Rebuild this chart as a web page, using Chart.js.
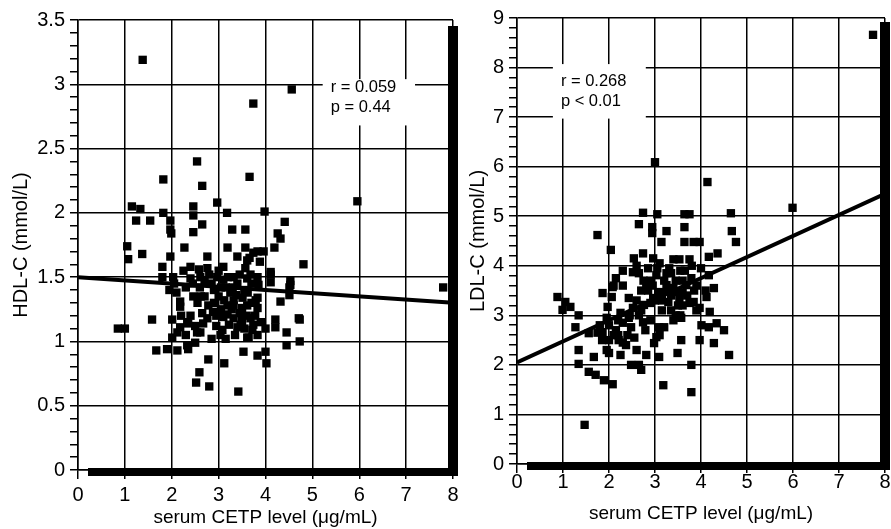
<!DOCTYPE html>
<html>
<head>
<meta charset="utf-8">
<script src="https://cdn.jsdelivr.net/npm/chart.js@4.4.0/dist/chart.umd.min.js"></script>
<style>
  body { margin: 0; background: #fff; overflow: hidden; }
  .wrap { position: absolute; top: 0; }
</style>
</head>
<body>
<div class="wrap" style="left:0px"><canvas id="hdlChart" width="463" height="529"></canvas></div>
<div class="wrap" style="left:445px"><canvas id="ldlChart" width="446" height="529"></canvas></div>
<script>
// serum CETP level (x) vs HDL-C (left panel)
const hdlX = [1.38, 3.74, 4.56, 2.54, 2.65, 3.66, 1.82, 5.96, 2.97, 3.98, 3.18, 1.15, 1.33, 1.24, 1.54, 1.82,
  1.97, 1.97, 2.46, 2.46, 2.65, 2.46, 3.29, 3.57, 4.41, 4.26, 4.32, 4.19, 1.99, 1.05, 1.37, 2.27, 1.97, 2.76,
  3.19, 3.57, 3.96, 3.83, 3.40, 3.66, 4.81, 7.79, 0.85, 1.00, 1.58, 1.67, 1.90, 2.12, 2.35, 2.50, 2.01, 2.01,
  2.18, 2.35, 2.61, 2.78, 2.59, 2.52, 2.80, 3.12, 3.42, 3.53, 3.83, 4.00, 4.02, 3.64, 3.83, 4.00, 4.21, 4.21,
  4.45, 4.45, 4.73, 4.73, 4.32, 4.51, 4.51, 4.11, 4.11, 3.04, 3.47, 3.74, 3.32, 2.78, 2.46, 2.18, 2.18, 2.76,
  3.19, 3.32, 3.61, 3.83, 3.51, 3.83, 3.19, 1.07, 3.74, 3.61, 3.57, 1.80, 2.40, 2.76, 3.10, 4.11, 1.80, 2.03,
  2.40, 2.61, 2.97, 3.10, 3.32, 3.61, 3.83, 4.53, 3.32, 3.79, 4.53, 2.33, 2.67, 3.10, 3.68, 4.71, 2.12, 2.54,
  3.08, 3.40, 3.72, 3.61, 2.33, 2.90, 3.00, 3.05, 3.15, 3.25, 3.40, 3.45, 3.55, 3.70, 2.85, 2.60, 2.95, 3.30,
  3.60, 2.70, 2.30, 2.05, 1.95, 2.88, 3.50, 2.25, 2.45, 2.55, 2.65, 2.70, 2.80, 2.90, 2.95, 3.00, 3.05, 3.12,
  3.20, 3.22, 3.28, 3.35, 3.38, 3.45, 3.50, 3.55, 3.62, 3.68, 3.70, 3.78, 3.85, 3.90, 2.40, 2.50, 2.20, 2.30,
  2.85, 3.15, 2.58, 3.88, 2.10, 2.62];
const hdlY = [3.19, 2.85, 2.96, 2.40, 2.21, 2.28, 2.26, 2.09, 2.08, 2.01, 2.00, 2.05, 2.03, 1.94, 1.94, 2.00,
  1.94, 1.87, 2.05, 1.98, 1.91, 1.85, 1.87, 1.87, 1.93, 1.84, 1.80, 1.73, 1.84, 1.74, 1.68, 1.73, 1.66, 1.66,
  1.73, 1.73, 1.70, 1.70, 1.66, 1.65, 1.60, 1.42, 1.10, 1.10, 1.17, 0.93, 0.94, 0.93, 0.94, 0.99, 1.17, 1.03,
  1.11, 1.14, 1.07, 0.86, 0.76, 0.68, 0.65, 0.83, 0.61, 0.92, 0.89, 0.92, 0.83, 1.03, 1.05, 1.10, 1.17, 1.11,
  1.07, 0.97, 1.17, 1.00, 1.31, 1.42, 1.36, 1.52, 1.46, 1.05, 1.13, 1.13, 1.18, 1.28, 1.35, 1.27, 1.31, 1.18,
  1.28, 1.28, 1.28, 1.26, 1.34, 1.34, 1.21, 1.64, 1.69, 1.63, 1.57, 1.58, 1.58, 1.57, 1.58, 1.54, 1.50, 1.50,
  1.49, 1.50, 1.50, 1.48, 1.50, 1.49, 1.50, 1.47, 1.32, 1.32, 1.44, 1.15, 1.14, 1.19, 1.18, 1.18, 1.07, 1.07,
  1.09, 1.11, 1.09, 1.03, 0.97, 1.40, 1.35, 1.25, 1.42, 1.38, 1.45, 1.22, 1.40, 1.45, 1.45, 1.42, 1.20, 1.42,
  1.20, 1.35, 1.42, 1.45, 1.40, 1.23, 1.16, 1.55, 1.45, 1.30, 1.22, 1.47, 1.52, 1.30, 1.12, 1.55, 1.42, 1.32,
  1.50, 1.13, 1.25, 1.05, 1.36, 1.52, 1.26, 1.10, 1.38, 1.52, 1.30, 1.20, 1.44, 1.15, 1.20, 1.12, 1.20, 1.05,
  1.02, 1.02, 1.56, 1.62, 1.38, 1.35];

// serum CETP level (x) vs LDL-C (right panel)
const ldlX = [7.74, 3.00, 4.14, 5.99, 1.75, 2.74, 3.05, 3.64, 3.75, 4.65, 2.65, 2.94, 2.94, 3.25, 3.14, 3.64,
  3.64, 3.84, 3.97, 4.67, 4.76, 2.04, 2.74, 2.54, 2.96, 3.40, 3.53, 3.75, 4.17, 4.36, 0.88, 1.05, 0.99, 1.16,
  1.34, 1.27, 1.56, 1.34, 1.67, 1.34, 1.56, 1.71, 1.89, 2.08, 1.47, 1.86, 2.06, 1.97, 1.86, 2.00, 2.15, 2.00,
  2.21, 2.37, 2.00, 2.15, 2.08, 2.43, 2.52, 2.43, 2.48, 2.74, 2.76, 2.65, 2.79, 3.03, 2.98, 3.09, 3.20, 2.48,
  2.65, 2.70, 2.81, 3.09, 3.18, 3.49, 3.57, 3.79, 3.79, 3.97, 4.28, 4.61, 4.01, 4.17, 4.34, 4.50, 4.19, 3.97,
  3.57, 3.29, 3.53, 3.84, 4.12, 4.28, 4.17, 3.09, 3.25, 3.46, 3.68, 3.79, 3.03, 2.81, 2.52, 3.31, 2.96, 2.30,
  2.60, 2.85, 3.10, 3.35, 3.55, 3.80, 4.00, 3.60, 3.20, 2.90, 2.30, 2.70, 3.40, 3.90, 4.10, 3.00, 3.15, 3.70,
  3.35, 3.60, 2.25, 2.30, 1.95, 2.10, 3.45, 2.20, 2.65, 2.75, 2.85, 2.95, 3.05, 3.15, 3.25, 3.30, 3.45, 3.50,
  3.60, 3.65, 3.75, 3.85, 3.90, 3.15, 2.90, 2.70, 2.60, 3.35, 3.55, 1.80, 1.85, 1.95, 2.10, 2.20, 2.30, 2.40,
  1.75, 2.25, 2.45, 2.55, 2.90, 3.10, 3.40, 2.60];
const ldlY = [8.66, 6.09, 5.69, 5.17, 4.62, 5.07, 5.04, 5.04, 5.04, 5.06, 4.84, 4.78, 4.66, 4.70, 4.48, 4.78,
  4.48, 4.48, 4.48, 4.70, 4.48, 4.32, 4.25, 4.15, 4.15, 4.13, 4.13, 4.13, 4.18, 4.25, 3.37, 3.27, 3.11, 3.17,
  3.00, 2.76, 2.64, 2.30, 2.16, 2.02, 1.86, 1.80, 1.69, 1.61, 0.79, 3.45, 3.37, 3.17, 2.66, 2.80, 2.70, 2.50,
  2.50, 2.40, 2.24, 3.75, 3.57, 3.35, 3.15, 2.95, 2.76, 2.86, 3.21, 3.00, 2.70, 2.56, 2.44, 2.76, 2.76, 2.00,
  2.00, 1.90, 2.20, 2.16, 1.59, 2.24, 2.50, 2.00, 1.45, 2.50, 2.44, 2.20, 2.80, 2.76, 2.84, 2.70, 3.07, 3.15,
  2.95, 3.27, 3.35, 3.27, 3.37, 3.55, 3.81, 3.47, 3.61, 3.47, 3.61, 3.75, 3.81, 3.61, 3.87, 3.95, 3.35, 3.90,
  4.00, 3.95, 4.05, 3.85, 3.90, 4.00, 3.95, 3.70, 3.70, 3.70, 3.60, 3.50, 3.55, 3.60, 3.50, 3.30, 3.45, 3.40,
  3.10, 3.20, 3.05, 2.85, 2.95, 3.60, 3.00, 2.60, 3.85, 3.70, 3.50, 3.60, 3.95, 3.30, 3.85, 3.55, 3.70, 3.20,
  3.45, 3.90, 3.25, 3.50, 3.10, 3.10, 3.25, 3.10, 3.30, 3.40, 3.00, 2.80, 2.50, 2.30, 2.60, 2.90, 2.45, 2.60,
  2.65, 2.20, 3.00, 2.55, 2.90, 2.60, 2.90, 2.30];

// regression lines
const fitX = [0, 8];
const hdlFitY = [1.50, 1.30];
const ldlFitY = [2.05, 5.45];

const xTicks = [0, 1, 2, 3, 4, 5, 6, 7, 8];
const xTitle = 'serum CETP level (\u03bcg/mL)';
const hdlStats = ['r = 0.059', 'p = 0.44'];
const ldlStats = ['r = 0.268', 'p < 0.01'];

function pairs(xs, ys) {
  let out = [];
  for (let i = 0; i < xs.length; i++) {
    out.push({ x: xs[i], y: ys[i] });
  }
  return out;
}

const tickFont = { family: 'Liberation Sans, Arial, sans-serif', size: 20 };
const xTitleFont = { family: 'Liberation Sans, Arial, sans-serif', size: 19 };
const yTitleFont = { family: 'Liberation Sans, Arial, sans-serif', size: 20 };

// thick black "shadow" bars along the right and bottom edges, and the r/p box
const framePlugin = {
  id: 'frame',
  beforeDatasetsDraw(chart, args, opts) {
    const ctx = chart.ctx;
    const xs = chart.scales.x, ys = chart.scales.y;
    const bx0 = xs.getPixelForValue(opts.box[0]);
    const bx1 = xs.getPixelForValue(opts.box[1]);
    const by0 = ys.getPixelForValue(opts.box[2]);
    const by1 = ys.getPixelForValue(opts.box[3]);
    ctx.save();
    ctx.fillStyle = '#fff';
    ctx.fillRect(bx0, by0, bx1 - bx0, by1 - by0);
    ctx.fillStyle = '#000';
    ctx.font = '16.5px Liberation Sans, Arial, sans-serif';
    ctx.textBaseline = 'middle';
    opts.lines.forEach((t, i) => {
      ctx.fillText(t, bx0 + opts.textDx, by0 + opts.textDy + i * 20);
    });
    ctx.restore();
  },
  afterDraw(chart, args, opts) {
    const ctx = chart.ctx;
    const a = chart.chartArea;
    ctx.save();
    ctx.fillStyle = '#000';
    ctx.fillRect(a.right - 5, a.top + opts.rightStart, 10, a.bottom - a.top - opts.rightStart + 5);
    ctx.fillRect(a.left + 10, a.bottom - 2, a.right - a.left - 5, 8);
    ctx.restore();
  }
};

function makeChart(id, xs, ys, fitY, yMax, yStep, yMajor, yTitle, stats, box, textDy, pad, yWidth, bottomPx, rightStart, xLabelPad, xTitlePad) {
  const isMajor = (v) => Math.abs(v / yMajor - Math.round(v / yMajor)) < 1e-6;
  return new Chart(document.getElementById(id), {
    type: 'scatter',
    data: {
      datasets: [
        {
          data: pairs(xs, ys),
          pointStyle: 'rect',
          pointRadius: 5.9,
          backgroundColor: '#000',
          borderColor: '#000',
          borderWidth: 0
        },
        {
          type: 'line',
          data: pairs(fitX, fitY),
          borderColor: '#000',
          borderWidth: 4,
          pointRadius: 0,
          fill: false
        }
      ]
    },
    options: {
      responsive: false,
      animation: false,
      layout: { padding: pad },
      plugins: {
        legend: { display: false },
        tooltip: { enabled: false },
        frame: { box: box, lines: stats, textDx: 8, textDy: textDy, rightStart: rightStart }
      },
      scales: {
        x: {
          type: 'linear',
          min: 0,
          max: 8,
          afterBuildTicks: (s) => { s.ticks = xTicks.map(v => ({ value: v })); },
          afterFit: (s) => { s.height = 529 - bottomPx; },
          ticks: { color: '#000', font: tickFont, padding: xLabelPad, maxRotation: 0 },
          grid: { color: '#000', lineWidth: 1.5, tickLength: 9, tickWidth: 1.5 },
          border: { display: true, color: '#000', width: 1.5 },
          title: { display: true, text: xTitle, color: '#000', font: xTitleFont, padding: { top: 0, bottom: xTitlePad } }
        },
        y: {
          type: 'linear',
          min: 0,
          max: yMax,
          ticks: {
            stepSize: yStep,
            autoSkip: false,
            color: '#000',
            font: tickFont,
            padding: 5,
            callback: (v) => isMajor(v) ? String(Math.round(v * 10) / 10) : ''
          },
          afterFit: (s) => { s.width = yWidth; },
          grid: {
            color: (c) => isMajor(c.tick.value) ? '#000' : 'rgba(0,0,0,0)',
            lineWidth: 1.5,
            tickColor: '#000',
            tickLength: 8,
            tickWidth: 1.5
          },
          border: { display: true, color: '#000', width: 1.5 },
          title: { display: true, text: yTitle, color: '#000', font: yTitleFont, padding: { top: 9, bottom: 0 } }
        }
      }
    },
    plugins: [framePlugin]
  });
}

makeChart('hdlChart', hdlX, hdlY, hdlFitY, 3.5, 0.1, 0.5, 'HDL-C (mmol/L)', hdlStats,
  [5.22, 7.19, 3.04, 2.68], 8, { left: 0, top: 20, right: 10, bottom: 0 }, 78, 470, 6, 4, 0);
makeChart('ldlChart', ldlX, ldlY, ldlFitY, 9, 0.2, 1, 'LDL-C (mmol/L)', ldlStats,
  [0.78, 2.80, 8.07, 6.97], 17, { left: 12, top: 18, right: 6, bottom: 0 }, 60, 464, 4, -3, 4);
</script>
</body>
</html>
